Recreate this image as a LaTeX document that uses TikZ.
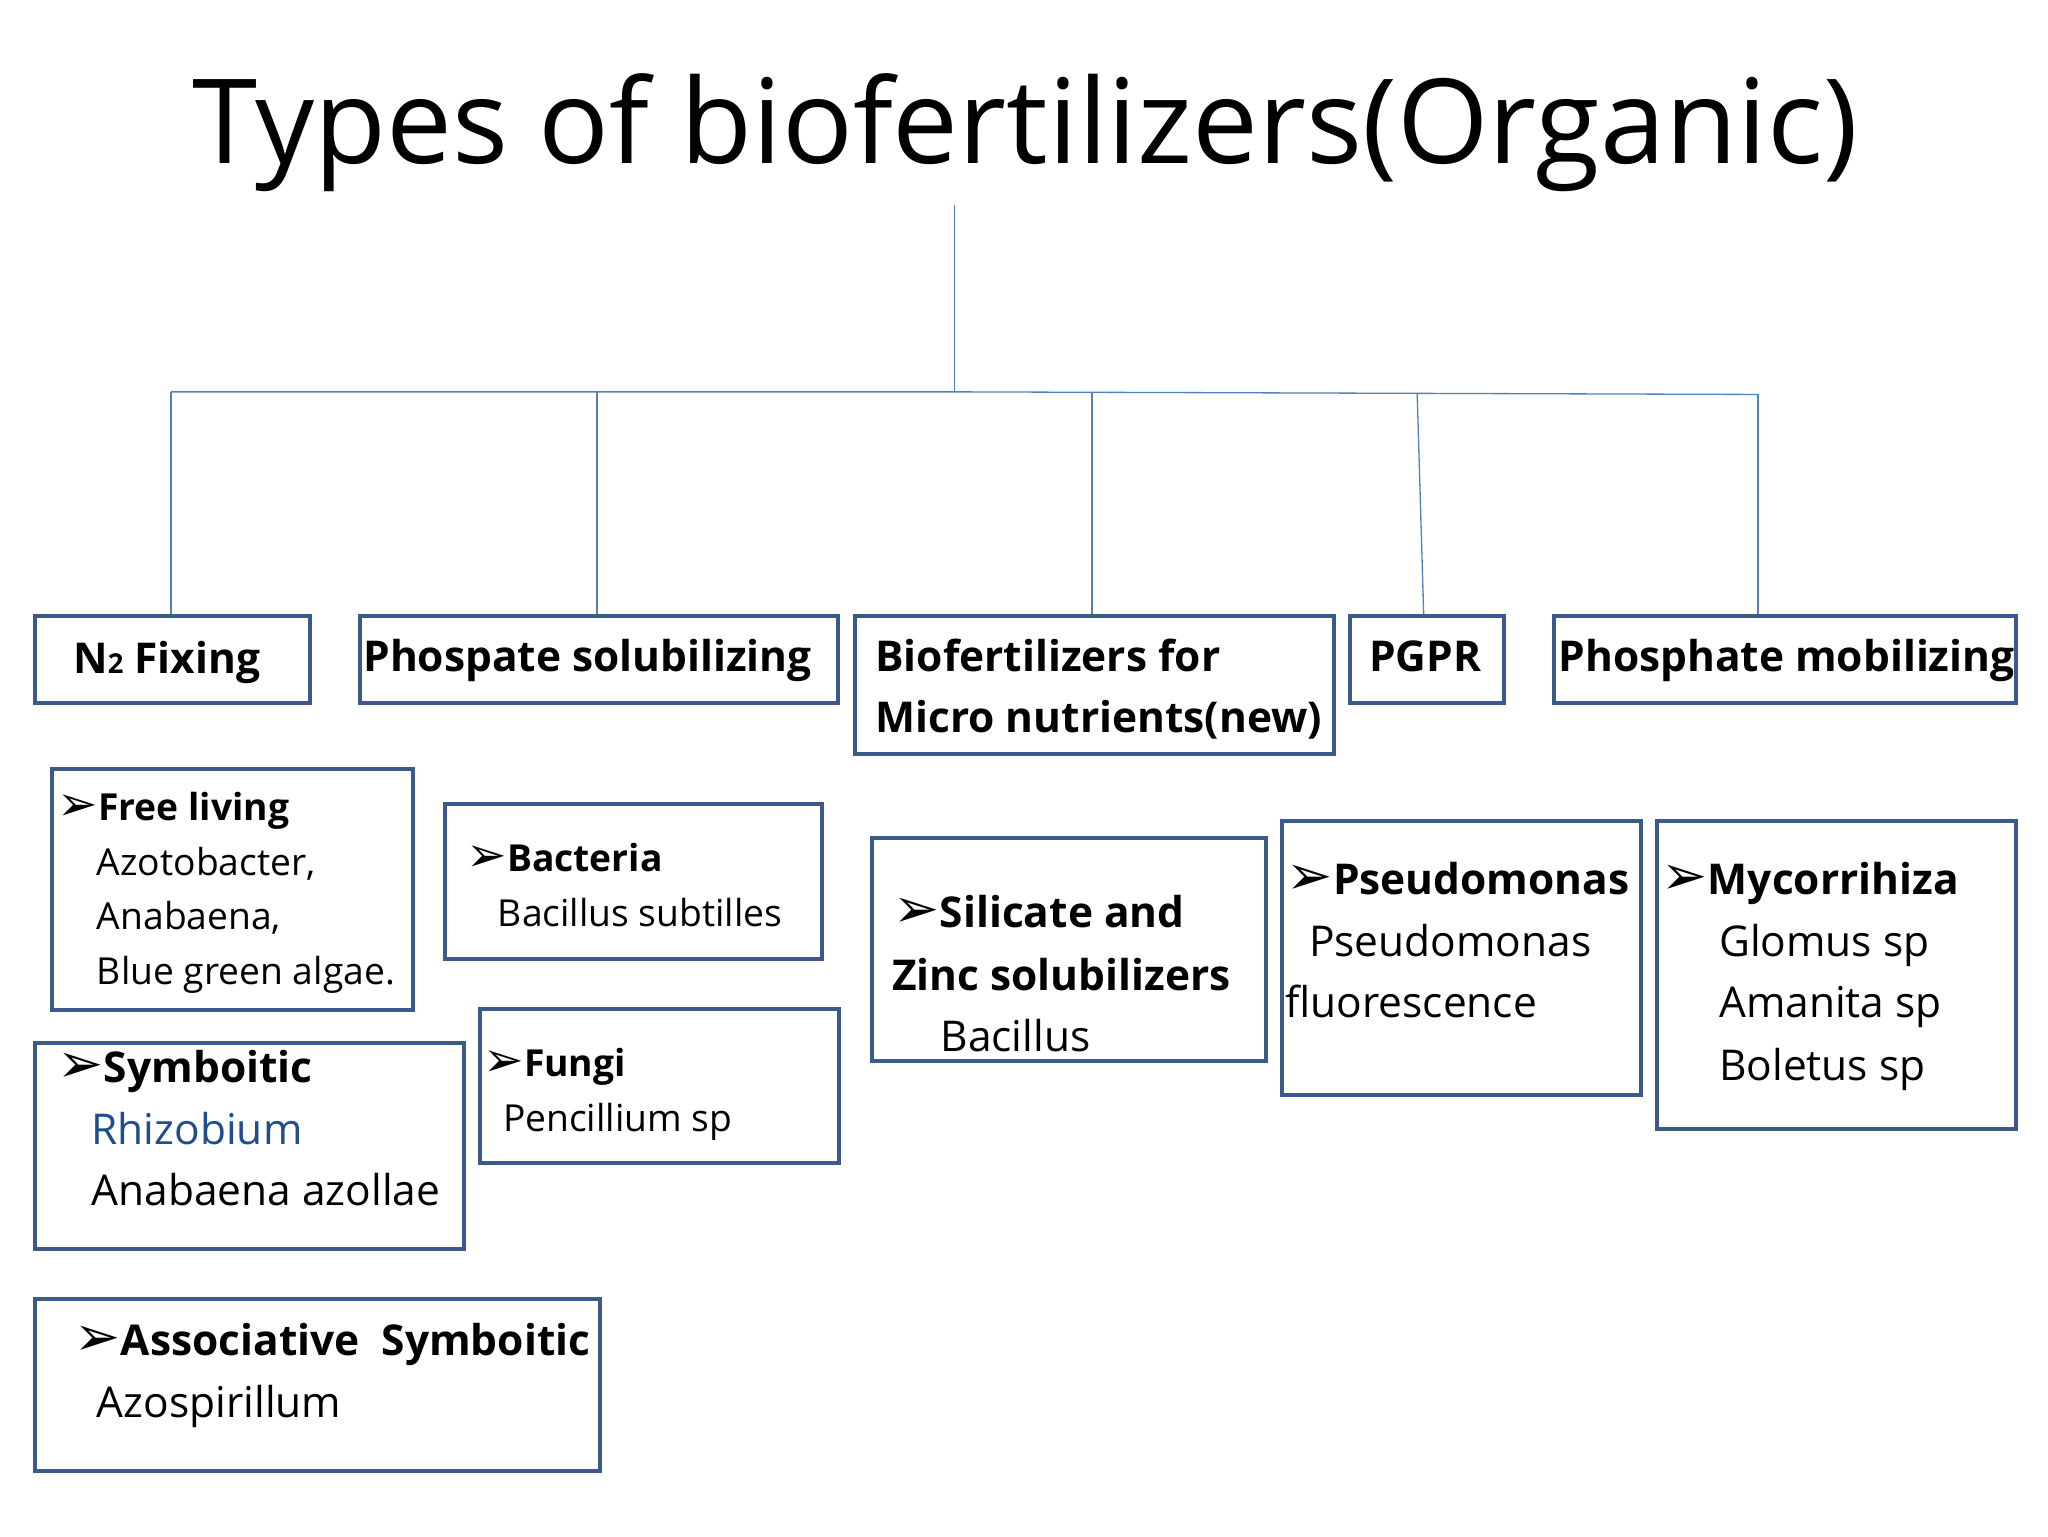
\documentclass[tikz,border=0pt]{standalone}
\usepackage{fontspec}
\setmainfont{Open Sans}
\newfontfamily\dvs{DejaVu Sans}
\newcommand{\arr}{{\dvs\scalebox{1.3}{➢}}}
\definecolor{boxc}{HTML}{3B5A8A}
\definecolor{linec}{HTML}{4F81BD}
\definecolor{rhiz}{HTML}{1F4E8C}
\begin{document}
\begin{tikzpicture}[x=1pt,y=-1pt,
  bx/.style={draw=boxc,line width=3pt,anchor=north west,inner sep=0pt},
  ln/.style={draw=linec,line width=1pt},
  hd/.style={font=\fontsize{32.5}{40}\selectfont\bfseries,anchor=base west,inner sep=0pt},
  sm/.style={font=\fontsize{28.5}{36}\selectfont,anchor=base west,inner sep=0pt},
  md/.style={font=\fontsize{32.5}{40}\selectfont,anchor=base west,inner sep=0pt}]
\useasboundingbox (0,0) rectangle (1568,1176);
\node[font=\fontsize{90}{100}\selectfont,anchor=base] (title) at (785,125) {Types of biofertilizers(Organic)};
% header boxes
\node[bx,minimum width=211pt,minimum height=67pt] (n2) at (25,470) {};
\node[bx,minimum width=366pt,minimum height=67pt] (ps) at (274,470) {};
\node[bx,minimum width=367pt,minimum height=106pt] (bf) at (653,470) {};
\node[bx,minimum width=118pt,minimum height=67pt] (pg) at (1032,470) {};
\node[bx,minimum width=354pt,minimum height=67pt] (pm) at (1188,470) {};
\node[hd] (n2t) at (56,516) {N{\fontsize{21}{21}\selectfont 2} Fixing};
\node[hd] (pst) at (278,514) {Phospate solubilizing};
\node[hd] (bft1) at (670,514) {Biofertilizers for};
\node[hd] (bft2) at (670,561) {Micro nutrients(new)};
\node[hd] (pgt) at (1048,514) {PGPR};
\node[hd] (pmt) at (1193,514) {Phosphate mobilizing};
% connectors
\coordinate (top) at (731,157);
\coordinate (mid) at (731,300);
\coordinate (hl) at (131,300);
\coordinate (hr) at (1346,302);
\coordinate (h2) at (457,300);
\coordinate (h3) at (836,301);
\coordinate (h4) at (1085,301);
\draw[ln] (top) -- (mid);
\draw[ln] (hl) -- (mid) -- (hr);
\draw[ln] (hl) -- (hl |- n2.north);
\draw[ln] (h2) -- (h2 |- ps.north);
\draw[ln] (h3) -- (h3 |- bf.north);
\draw[ln] (h4) -- (1090,470);
\draw[ln] (hr) -- (hr |- pm.north);
% content boxes
\node[bx,minimum width=277pt,minimum height=185pt] (fl) at (38,587) {};
\node[bx,minimum width=289pt,minimum height=119pt] (ba) at (339,614) {};
\node[bx,minimum width=329pt,minimum height=158pt] (sy) at (25,797) {};
\node[bx,minimum width=275pt,minimum height=118pt] (fu) at (366,771) {};
\node[bx,minimum width=433pt,minimum height=132pt] (as) at (25,993) {};
\node[bx,minimum width=302pt,minimum height=171pt] (si) at (666,640) {};
\node[bx,minimum width=275pt,minimum height=210pt] (pe) at (980,627) {};
\node[bx,minimum width=275pt,minimum height=236pt] (my) at (1267,627) {};
% texts
\node[sm] (fl1) at (44,628) {\arr\textbf{Free living}};
\node[sm] (fl2) at (74,670) {Azotobacter,};
\node[sm] (fl3) at (74,712) {Anabaena,};
\node[sm] (fl4) at (74,754) {Blue green algae.};
\node[sm] (ba1) at (357,667) {\arr\textbf{Bacteria}};
\node[sm] (ba2) at (381,709) {Bacillus subtilles};
\node[md] (sy1) at (44,829) {\arr\textbf{Symboitic}};
\node[md,text=rhiz] (sy2) at (70,876) {Rhizobium};
\node[md] (sy3) at (70,923) {Anabaena azollae};
\node[sm] (fu1) at (370,824) {\arr\textbf{Fungi}};
\node[sm] (fu2) at (385,866) {Pencillium sp};
\node[md] (as1) at (57,1038) {\arr\textbf{Associative\ \ Symboitic}};
\node[md] (as2) at (74,1085) {Azospirillum};
\node[md] (si1) at (684,710) {\arr\textbf{Silicate and}};
\node[md] (si2) at (683,758) {\textbf{Zinc solubilizers}};
\node[md] (si3) at (720,805) {Bacillus};
\node[md] (pe1) at (985,685) {\arr\textbf{Pseudomonas}};
\node[md] (pe2) at (1002,732) {Pseudomonas};
\node[md] (pe3) at (984,779) {fluorescence};
\node[md] (my1) at (1272,685) {\arr\textbf{Mycorrihiza}};
\node[md] (my2) at (1316,732) {Glomus sp};
\node[md] (my3) at (1316,779) {Amanita sp};
\node[md] (my4) at (1316,827) {Boletus sp};
\end{tikzpicture}
\end{document}
